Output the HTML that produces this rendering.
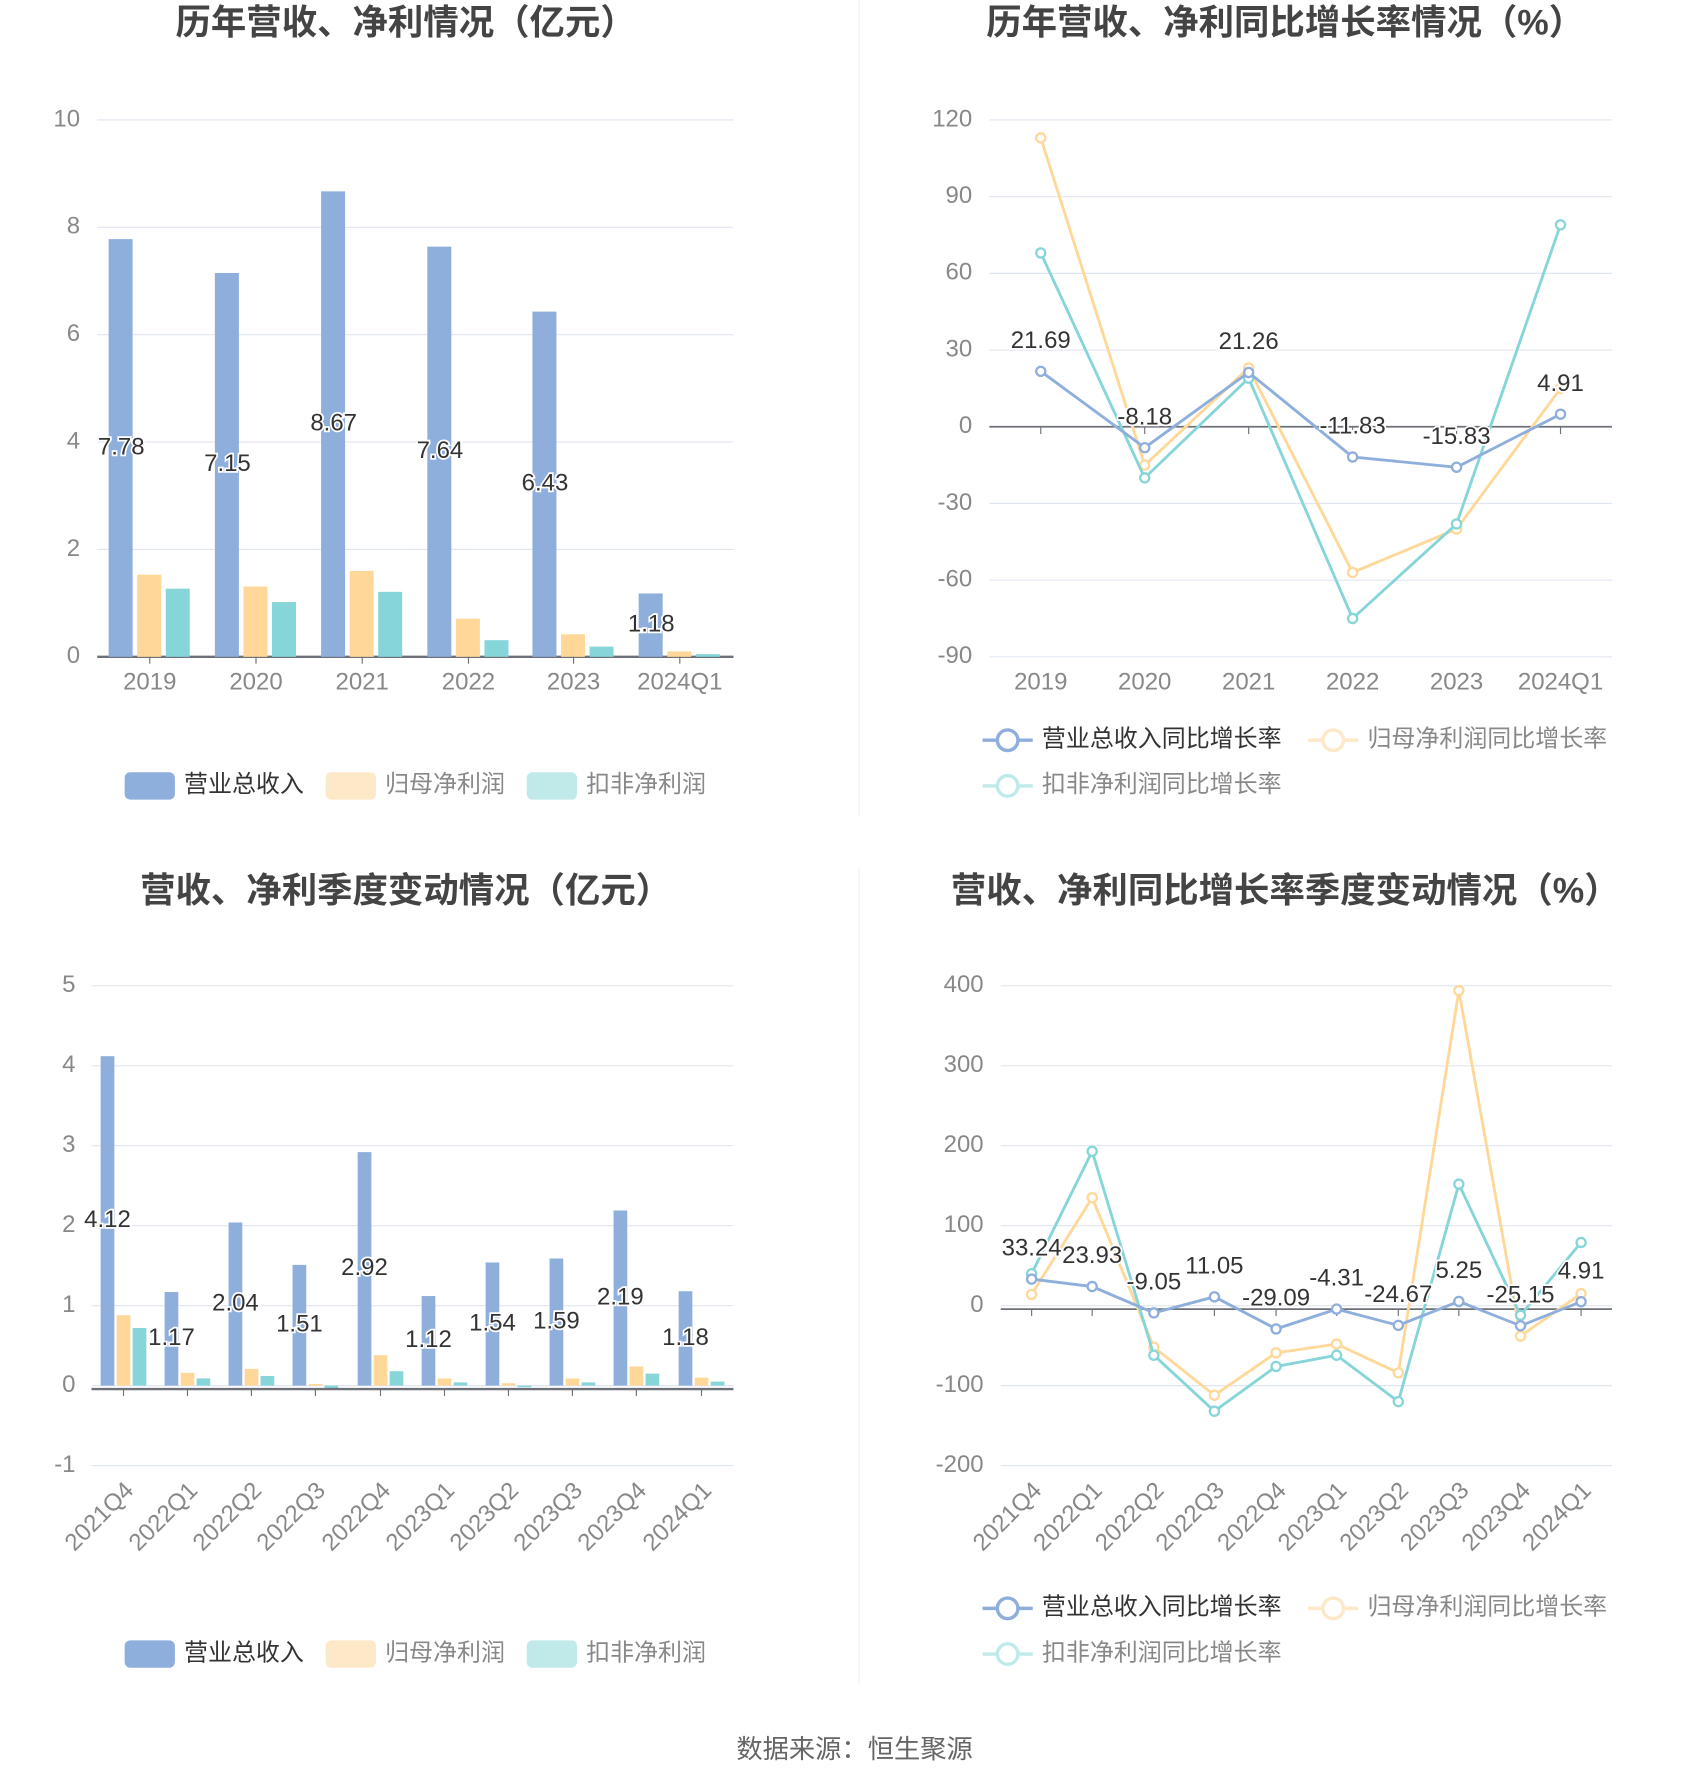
<!DOCTYPE html>
<html><head><meta charset="utf-8">
<style>
html,body{margin:0;padding:0;background:#fff;}
svg{display:block;font-family:"Liberation Sans","Noto Sans CJK SC",sans-serif;}
</style></head>
<body>
<svg id="s" width="1700" height="1782" viewBox="0 0 1488 1560" xmlns="http://www.w3.org/2000/svg"></svg>
<script>
const S=document.getElementById('s');let h='';
const B='#8eaedc',Y='#ffd899',T='#86d5d8',LB='#8eaedc',LY='#fde8c8',LT='#c0eaea';
function txt(x,y,t,o){o=o||{};h+=`<text x="${x}" y="${y}" font-size="${o.fs||21}" fill="${o.c||'#888'}" text-anchor="${o.a||'middle'}" ${o.w?'font-weight="bold"':''} ${o.st?'stroke="#fff" stroke-width="3" paint-order="stroke"':''} ${o.tr?'transform="'+o.tr+'"':''} dominant-baseline="middle">${t}</text>`;}
function line(x1,y1,x2,y2,c,w){h+=`<line x1="${x1}" y1="${y1}" x2="${x2}" y2="${y2}" stroke="${c}" stroke-width="${w||1}"/>`;}
function rect(x,y,w,hh,c,r){if(hh<0){y+=hh;hh=-hh;}h+=`<rect x="${x}" y="${y}" width="${w}" height="${hh}" fill="${c}" rx="${r||0}"/>`;}
function grid(x0,x1,ticks,yf,lx){ticks.forEach(v=>{line(x0,yf(v),x1,yf(v),'#e0e6f1',1);txt(lx,yf(v),v,{a:'end'});});}
function barLegend(y){[[109,LB,'营业总收入','#333'],[285,LY,'归母净利润','#888'],[461,LT,'扣非净利润','#888']].forEach(l=>{rect(l[0],y-12,44,24,l[1],5);txt(l[0]+52,y,l[2],{a:'start',c:l[3]});});}
function lineLegend(y){[[860,y,LB,'营业总收入同比增长率','#333'],[1145,y,LY,'归母净利润同比增长率','#888'],[860,y+40,LT,'扣非净利润同比增长率','#888']].forEach(l=>{line(l[0],l[1],l[0]+44,l[1],l[2],3);h+=`<circle cx="${l[0]+22}" cy="${l[1]}" r="9" fill="#fff" stroke="${l[2]}" stroke-width="3"/>`;txt(l[0]+52,l[1],l[3],{a:'start',c:l[4]});});}
function series(xs,vals,yf,c){h+=`<polyline fill="none" stroke="${c}" stroke-width="2.5" points="${xs.map((x,i)=>x+','+yf(vals[i])).join(' ')}"/>`;xs.forEach((x,i)=>{h+=`<circle cx="${x}" cy="${yf(vals[i])}" r="4" fill="#fff" stroke="${c}" stroke-width="2"/>`;});}
line(752,0,752,715,'#eee',1);line(752,760,752,1475,'#eee',1);
// Chart 1
txt(355,22,'历年营收、净利情况（亿元）',{fs:31,w:1,c:'#444'});
let y1=v=>575-v*47;grid(85,642,[0,2,4,6,8,10],y1,70);
line(85,575,642,575,'#6e7079',2);
let c1=[131,224,317,410,502,595],cat1=['2019','2020','2021','2022','2023','2024Q1'];
let r1=[7.78,7.15,8.67,7.64,6.43,1.18],n1=[1.53,1.31,1.60,0.71,0.42,0.10],d1=[1.27,1.02,1.21,0.31,0.19,0.05];
c1.forEach((x,i)=>{rect(x-36,y1(r1[i]),21,r1[i]*47,B);rect(x-11,y1(n1[i]),21,n1[i]*47,Y);rect(x+14,y1(d1[i]),21,d1[i]*47,T);line(x,575,x,581,'#6e7079',1);txt(x,598,cat1[i]);});
c1.forEach((x,i)=>txt(x-25,y1(r1[i]/2),r1[i].toFixed(2),{c:'#333',st:1}));
barLegend(688);
// Chart 2
txt(1125,22,'历年营收、净利同比增长率情况（%）',{fs:31,w:1,c:'#444'});
let y2=v=>373.6-v*2.238;grid(866,1411,[120,90,60,30,0,-30,-60,-90],y2,851);
line(866,373.6,1411,373.6,'#6e7079',1.5);
let c2=[911,1002,1093,1184,1275,1366];
c2.forEach((x,i)=>{line(x,373.6,x,380,'#6e7079',1);txt(x,598,cat1[i]);});
series(c2,[113,-15,23,-57,-40,15],y2,Y);
series(c2,[68,-20,19,-75,-38,79],y2,T);
let g2=[21.69,-8.18,21.26,-11.83,-15.83,4.91];series(c2,g2,y2,B);
c2.forEach((x,i)=>txt(x,y2(g2[i])-26,g2[i],{c:'#333',st:1}));
lineLegend(648);
// Chart 3
txt(355,782,'营收、净利季度变动情况（亿元）',{fs:31,w:1,c:'#444'});
let y3=v=>1213-v*70;grid(80,642,[-1,0,1,2,3,4,5],y3,66);
let c3=[108,164,220,276,333,389,445,501,557,614],cat3=['2021Q4','2022Q1','2022Q2','2022Q3','2022Q4','2023Q1','2023Q2','2023Q3','2023Q4','2024Q1'];
let r3=[4.12,1.17,2.04,1.51,2.92,1.12,1.54,1.59,2.19,1.18],n3=[0.88,0.16,0.21,0.02,0.38,0.09,0.03,0.09,0.24,0.10],d3=[0.72,0.09,0.12,-0.05,0.18,0.04,-0.02,0.04,0.15,0.05];
c3.forEach((x,i)=>{rect(x-20,y3(r3[i]),12,r3[i]*70,B);rect(x-6,y3(n3[i]),12,n3[i]*70,Y);rect(x+8,y3(d3[i]),12,d3[i]*70,T);});
line(80,1216,642,1216,'#6e7079',2);
c3.forEach((x,i)=>{line(x,1216,x,1222,'#6e7079',1);txt(x+6,1302,cat3[i],{a:'end',tr:`rotate(-45 ${x+6} 1302)`});});
c3.forEach((x,i)=>txt(x-14,y3(r3[i]/2),r3[i].toFixed(2),{c:'#333',st:1}));
barLegend(1448);
// Chart 4
txt(1125,782,'营收、净利同比增长率季度变动情况（%）',{fs:31,w:1,c:'#444'});
let y4=v=>1143-v*0.7;grid(876,1411,[-200,-100,0,100,200,300,400],y4,861);
line(876,1146,1411,1146,'#6e7079',1.5);
let c4=[903,956,1010,1063,1117,1170,1224,1277,1331,1384];
c4.forEach((x,i)=>{line(x,1146,x,1152,'#6e7079',1);txt(x+6,1302,cat3[i],{a:'end',tr:`rotate(-45 ${x+6} 1302)`});});
series(c4,[14,135,-52,-112,-59,-48,-84,394,-38,15],y4,Y);
series(c4,[40,193,-62,-132,-76,-62,-120,152,-12,79],y4,T);
let g4=[33.24,23.93,-9.05,11.05,-29.09,-4.31,-24.67,5.25,-25.15,4.91];series(c4,g4,y4,B);
c4.forEach((x,i)=>txt(x,y4(g4[i])-26,g4[i],{c:'#333',st:1}));
lineLegend(1408);
txt(748,1533,'数据来源：恒生聚源',{fs:23,c:'#666'});
S.innerHTML=h;
</script>
</body></html>
